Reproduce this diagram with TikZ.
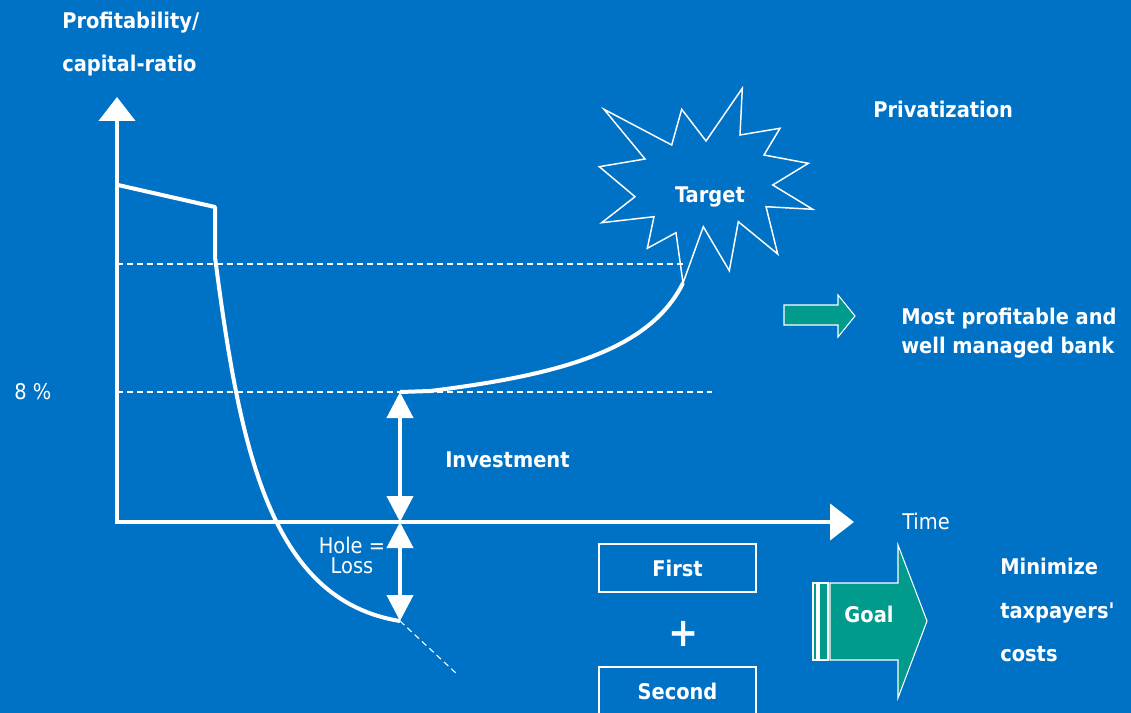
\documentclass[tikz,border=0pt]{standalone}
\usepackage{fontspec}
\setmainfont{DejaVu Sans Condensed}
\usetikzlibrary{arrows.meta}
\definecolor{bg}{RGB}{0,114,198}
\definecolor{tealc}{RGB}{0,155,140}
\begin{document}
\begin{tikzpicture}[x=0.75pt,y=-0.75pt,
  bold/.style={text=white,font=\fontsize{16.2}{18}\selectfont\bfseries,inner sep=0pt},
  thin/.style={text=white,font=\fontsize{16.2}{18}\selectfont,inner sep=0pt},
  axis/.style={white,line width=3.2pt,{Triangle[width=27pt,length=18pt]}-{Triangle[width=27pt,length=18pt]}},
  dbl/.style={white,line width=3pt,{Triangle[width=19.5pt,length=19.5pt]}-{Triangle[width=19.5pt,length=19.5pt]}},
  guide/.style={white,line width=0.8pt,dash pattern=on 4.5pt off 3pt},
  curve/.style={white,line width=3pt,line join=round},
  box/.style={draw=white,line width=1pt,minimum width=117.75pt,minimum height=36pt,inner sep=0pt,text=white,font=\fontsize{16.2}{18}\selectfont\bfseries},
  tealshape/.style={fill=tealc,draw=white,line width=0.8pt,line join=miter}]
\fill[bg] (0,0) rectangle (1131,713);
\useasboundingbox (0,0) rectangle (1131,713);
% coordinates
\coordinate (O) at (117,522);
\coordinate (ytip) at (117,97);
\coordinate (xtip) at (854,522);
\coordinate (inv) at (400,392);
\coordinate (zero) at (400,522);
\coordinate (low) at (400,621);
\coordinate (ext) at (458,675);
\coordinate (tgt) at (683,283);
% guides
\draw[guide] (117,264) -- (683,264);
\draw[guide] (117,392) -- (712,392);
\draw[guide] (low) -- (ext);
% axes
\draw[axis] (ytip) -- (O) -- (xtip);
% curves
\draw[curve] (118,185) -- (215,207) -- (215,257) .. controls (240,450) and (270,600) .. (low);
\draw[curve] (inv) -- (430,391) .. controls (560,375) and (650,350) .. (tgt);
% double arrows
\draw[dbl] (inv) -- (zero);
\draw[dbl] (zero) -- (low);
% star
\draw[white,line width=1.1pt,line join=miter] (604,109.3) -- (671.7,145) -- (681.7,109.3) -- (706,141) -- (742.3,88.3) -- (740,135) -- (780,128.3) -- (764,155) -- (808.3,163.3) -- (772.7,185) -- (812.7,209.3) -- (766,206.7) -- (777.7,254) -- (738.3,221.7) -- (729.3,270.7) -- (703.3,226.7) -- (tgt) -- (676,232.7) -- (647.3,248.3) -- (654,216.7) -- (601.7,222.7) -- (635,196.7) -- (599.3,166.7) -- (645,159) -- cycle;
\node[bold,anchor=base] (target) at (710,202) {Target};
% labels
\node[bold,anchor=base west] (ylab1) at (62,29) {Profitability/};
\node[bold,anchor=base west] (ylab2) at (62,72) {capital-ratio};
\node[bold,anchor=base west] (priv) at (873,118) {Privatization};
\node[bold,anchor=base west] (most1) at (901,324) {Most profitable and};
\node[bold,anchor=base west] (most2) at (901,353) {well managed bank};
\node[thin,anchor=base west] (pct) at (14,399) {8 \%};
\node[bold,anchor=base west] (invest) at (445,467) {Investment};
\node[thin,anchor=base west] (time) at (902,529) {Time};
\node[thin,anchor=base] (hole1) at (352,553) {Hole =};
\node[thin,anchor=base] (hole2) at (352,573) {Loss};
\node[bold,anchor=base west] (min1) at (1000,574) {Minimize};
\node[bold,anchor=base west] (min2) at (1000,618) {taxpayers\textquotesingle};
\node[bold,anchor=base west] (min3) at (1000,661) {costs};
% teal arrow
\draw[tealshape] (784,305) -- (838,305) -- (838,295) -- (855,316) -- (838,337) -- (838,325) -- (784,325) -- cycle;
% boxes
\node[box] (first) at (677.5,568) {First};
\node[box] (second) at (677.5,691) {Second};
\node[text=white,font=\fontsize{30}{30}\selectfont\bfseries,inner sep=0pt] (plus) at (684,634) {+};
% goal arrow
\draw[tealshape] (813,583) rectangle (817,660);
\draw[tealshape] (819,583) rectangle (828,660);
\draw[tealshape] (830,583) -- (898,583) -- (898,545) -- (927,621) -- (898,698) -- (898,660) -- (830,660) -- cycle;
\node[bold,anchor=base] (goal) at (869,622) {Goal};
\end{tikzpicture}
\end{document}
